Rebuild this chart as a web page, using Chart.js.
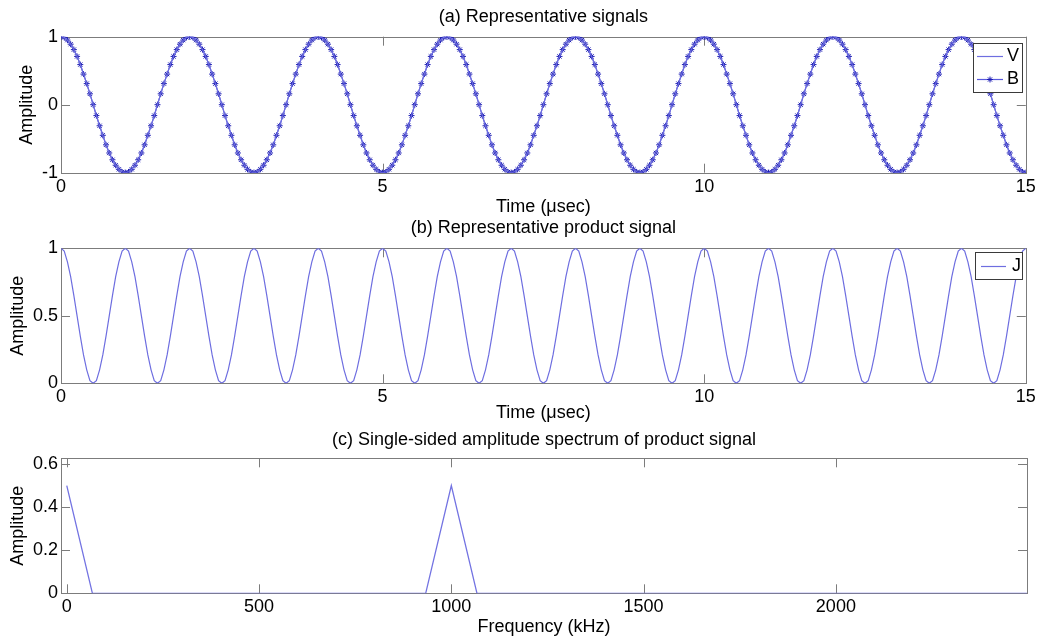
<!DOCTYPE html>
<html>
<head>
<meta charset="utf-8">
<title>Signals and spectrum</title>
<script src="https://cdn.jsdelivr.net/npm/chart.js@4.4.1/dist/chart.umd.min.js"></script>
<style>
  body { margin: 0; background: #fff; }
  #wrap { position: relative; width: 1039px; height: 640px; }
  #wrap canvas { position: absolute; left: 0; top: 0; }
</style>
</head>
<body>
<div id="wrap">
  <canvas id="plot-a" width="1039" height="640"></canvas>
  <canvas id="plot-b" width="1039" height="640"></canvas>
  <canvas id="plot-c" width="1039" height="640"></canvas>
</div>
<script>
// sample spacing of the time traces (usec)
const timeStep = 0.05;

const signalV = [
  1,0.99,0.95,0.89,0.81,0.71,0.59,0.45,0.31,0.16,0,-0.16,-0.31,-0.45,-0.59,-0.71,-0.81,-0.89,-0.95,-0.99,
  -1,-0.99,-0.95,-0.89,-0.81,-0.71,-0.59,-0.45,-0.31,-0.16,0,0.16,0.31,0.45,0.59,0.71,0.81,0.89,0.95,0.99,
  1,0.99,0.95,0.89,0.81,0.71,0.59,0.45,0.31,0.16,0,-0.16,-0.31,-0.45,-0.59,-0.71,-0.81,-0.89,-0.95,-0.99,
  -1,-0.99,-0.95,-0.89,-0.81,-0.71,-0.59,-0.45,-0.31,-0.16,0,0.16,0.31,0.45,0.59,0.71,0.81,0.89,0.95,0.99,
  1,0.99,0.95,0.89,0.81,0.71,0.59,0.45,0.31,0.16,0,-0.16,-0.31,-0.45,-0.59,-0.71,-0.81,-0.89,-0.95,-0.99,
  -1,-0.99,-0.95,-0.89,-0.81,-0.71,-0.59,-0.45,-0.31,-0.16,0,0.16,0.31,0.45,0.59,0.71,0.81,0.89,0.95,0.99,
  1,0.99,0.95,0.89,0.81,0.71,0.59,0.45,0.31,0.16,0,-0.16,-0.31,-0.45,-0.59,-0.71,-0.81,-0.89,-0.95,-0.99,
  -1,-0.99,-0.95,-0.89,-0.81,-0.71,-0.59,-0.45,-0.31,-0.16,0,0.16,0.31,0.45,0.59,0.71,0.81,0.89,0.95,0.99,
  1,0.99,0.95,0.89,0.81,0.71,0.59,0.45,0.31,0.16,0,-0.16,-0.31,-0.45,-0.59,-0.71,-0.81,-0.89,-0.95,-0.99,
  -1,-0.99,-0.95,-0.89,-0.81,-0.71,-0.59,-0.45,-0.31,-0.16,0,0.16,0.31,0.45,0.59,0.71,0.81,0.89,0.95,0.99,
  1,0.99,0.95,0.89,0.81,0.71,0.59,0.45,0.31,0.16,0,-0.16,-0.31,-0.45,-0.59,-0.71,-0.81,-0.89,-0.95,-0.99,
  -1,-0.99,-0.95,-0.89,-0.81,-0.71,-0.59,-0.45,-0.31,-0.16,0,0.16,0.31,0.45,0.59,0.71,0.81,0.89,0.95,0.99,
  1,0.99,0.95,0.89,0.81,0.71,0.59,0.45,0.31,0.16,0,-0.16,-0.31,-0.45,-0.59,-0.71,-0.81,-0.89,-0.95,-0.99,
  -1,-0.99,-0.95,-0.89,-0.81,-0.71,-0.59,-0.45,-0.31,-0.16,0,0.16,0.31,0.45,0.59,0.71,0.81,0.89,0.95,0.99,
  1,0.99,0.95,0.89,0.81,0.71,0.59,0.45,0.31,0.16,0,-0.16,-0.31,-0.45,-0.59,-0.71,-0.81,-0.89,-0.95,-0.99,
  -1
];
// B runs on the same samples as V (the two traces overlap)
const signalB = signalV;

const signalJ = [
  1,0.98,0.9,0.79,0.65,0.5,0.35,0.21,0.1,0.02,0,0.02,0.1,0.21,0.35,0.5,0.65,0.79,0.9,0.98,
  1,0.98,0.9,0.79,0.65,0.5,0.35,0.21,0.1,0.02,0,0.02,0.1,0.21,0.35,0.5,0.65,0.79,0.9,0.98,
  1,0.98,0.9,0.79,0.65,0.5,0.35,0.21,0.1,0.02,0,0.02,0.1,0.21,0.35,0.5,0.65,0.79,0.9,0.98,
  1,0.98,0.9,0.79,0.65,0.5,0.35,0.21,0.1,0.02,0,0.02,0.1,0.21,0.35,0.5,0.65,0.79,0.9,0.98,
  1,0.98,0.9,0.79,0.65,0.5,0.35,0.21,0.1,0.02,0,0.02,0.1,0.21,0.35,0.5,0.65,0.79,0.9,0.98,
  1,0.98,0.9,0.79,0.65,0.5,0.35,0.21,0.1,0.02,0,0.02,0.1,0.21,0.35,0.5,0.65,0.79,0.9,0.98,
  1,0.98,0.9,0.79,0.65,0.5,0.35,0.21,0.1,0.02,0,0.02,0.1,0.21,0.35,0.5,0.65,0.79,0.9,0.98,
  1,0.98,0.9,0.79,0.65,0.5,0.35,0.21,0.1,0.02,0,0.02,0.1,0.21,0.35,0.5,0.65,0.79,0.9,0.98,
  1,0.98,0.9,0.79,0.65,0.5,0.35,0.21,0.1,0.02,0,0.02,0.1,0.21,0.35,0.5,0.65,0.79,0.9,0.98,
  1,0.98,0.9,0.79,0.65,0.5,0.35,0.21,0.1,0.02,0,0.02,0.1,0.21,0.35,0.5,0.65,0.79,0.9,0.98,
  1,0.98,0.9,0.79,0.65,0.5,0.35,0.21,0.1,0.02,0,0.02,0.1,0.21,0.35,0.5,0.65,0.79,0.9,0.98,
  1,0.98,0.9,0.79,0.65,0.5,0.35,0.21,0.1,0.02,0,0.02,0.1,0.21,0.35,0.5,0.65,0.79,0.9,0.98,
  1,0.98,0.9,0.79,0.65,0.5,0.35,0.21,0.1,0.02,0,0.02,0.1,0.21,0.35,0.5,0.65,0.79,0.9,0.98,
  1,0.98,0.9,0.79,0.65,0.5,0.35,0.21,0.1,0.02,0,0.02,0.1,0.21,0.35,0.5,0.65,0.79,0.9,0.98,
  1,0.98,0.9,0.79,0.65,0.5,0.35,0.21,0.1,0.02,0,0.02,0.1,0.21,0.35,0.5,0.65,0.79,0.9,0.98,
  1
];

// single-sided spectrum: DC bin and the 1 MHz bin, zero elsewhere
const freqKHz = [0, 66.7, 933.3, 1000, 1066.7, 2533.3];
const spectrumAmp = [0.5, 0, 0, 0.5, 0, 0];

const timeTicks = [0, 5, 10, 15];
const ampTicksA = [-1, 0, 1];
const ampTicksB = [0, 0.5, 1];
const freqTicks = [0, 500, 1000, 1500, 2000];
const ampTicksC = [0, 0.2, 0.4, 0.6];

const FONT = "'Liberation Sans', Arial, Helvetica, sans-serif";
const TEXT = '#000';
const FS = 18;
const LH = FS * 1.2;

const toXY = (xs, ys) => ys.map((v, i) => ({ x: xs[i], y: v }));
const onTime = ys => ys.map((v, i) => ({ x: +(i * timeStep).toFixed(2), y: v }));

// box around the axes plus inward tick marks on all four sides
const axesBox = {
  id: 'axesBox',
  beforeDatasetsDraw(chart) {
    const { ctx, chartArea: a, scales: { x, y } } = chart;
    const len = 9;
    ctx.save();
    ctx.strokeStyle = '#7c7c7c';
    ctx.lineWidth = 1;
    ctx.beginPath();
    x.ticks.forEach(t => {
      const px = Math.round(x.getPixelForValue(t.value)) + 0.5;
      ctx.moveTo(px, a.bottom); ctx.lineTo(px, a.bottom - len);
      ctx.moveTo(px, a.top); ctx.lineTo(px, a.top + len);
    });
    y.ticks.forEach(t => {
      const py = Math.round(y.getPixelForValue(t.value)) + 0.5;
      ctx.moveTo(a.left, py); ctx.lineTo(a.left + len, py);
      ctx.moveTo(a.right, py); ctx.lineTo(a.right - len, py);
    });
    ctx.stroke();
    ctx.strokeRect(Math.round(a.left) + 0.5, Math.round(a.top) + 0.5,
      Math.round(a.width), Math.round(a.height));
    ctx.restore();
  }
};

function drawStar(ctx, x, y, r) {
  ctx.beginPath();
  ctx.moveTo(x - r, y); ctx.lineTo(x + r, y);
  ctx.moveTo(x, y - r); ctx.lineTo(x, y + r);
  const d = r * 0.7;
  ctx.moveTo(x - d, y - d); ctx.lineTo(x + d, y + d);
  ctx.moveTo(x - d, y + d); ctx.lineTo(x + d, y - d);
  ctx.stroke();
}

// legend box sitting inside the top-right corner of the axes
const boxLegend = {
  id: 'boxLegend',
  afterDatasetsDraw(chart, args, opts) {
    if (!opts.show) return;
    const { ctx, chartArea: a } = chart;
    const sets = chart.data.datasets;
    const x0 = Math.round(a.right - opts.right - opts.width);
    const y0 = Math.round(a.top + opts.top);
    const h = opts.rowHeight * sets.length + opts.padY * 2;
    ctx.save();
    ctx.fillStyle = '#fff';
    ctx.fillRect(x0, y0, opts.width, h);
    ctx.strokeStyle = '#3a3a3a';
    ctx.lineWidth = 1;
    ctx.strokeRect(x0 + 0.5, y0 + 0.5, opts.width, h);
    sets.forEach((ds, i) => {
      const cy = Math.round(y0 + opts.padY + opts.rowHeight * (i + 0.5)) + 0.5;
      ctx.strokeStyle = ds.borderColor;
      ctx.lineWidth = ds.borderWidth;
      ctx.beginPath();
      ctx.moveTo(x0 + opts.lineX0, cy); ctx.lineTo(x0 + opts.lineX1, cy);
      ctx.stroke();
      if (ds.pointRadius > 0) {
        ctx.strokeStyle = ds.pointBorderColor;
        ctx.lineWidth = ds.pointBorderWidth;
        drawStar(ctx, x0 + (opts.lineX0 + opts.lineX1) / 2, cy, ds.pointRadius);
      }
      ctx.fillStyle = TEXT;
      ctx.font = `${FS}px ${FONT}`;
      ctx.textBaseline = 'middle';
      ctx.fillText(ds.label, x0 + opts.textX, cy);
    });
    ctx.restore();
  }
};

function makePanel(id, p) {
  const xBoxBottom = p.xTitleY + LH / 2;
  return new Chart(document.getElementById(id), {
    type: 'line',
    data: { datasets: p.datasets },
    plugins: [axesBox, boxLegend],
    options: {
      responsive: false,
      animation: false,
      events: [],
      layout: { padding: { left: 0, right: 12, top: p.titleY - LH / 2, bottom: 640 - xBoxBottom } },
      elements: { line: { tension: 0 } },
      plugins: {
        legend: { display: false },
        tooltip: { enabled: false },
        title: {
          display: true, fullSize: false, text: p.title, color: TEXT,
          font: { family: FONT, size: FS, weight: 'normal' },
          padding: { top: 0, bottom: p.top - (p.titleY + LH / 2) }
        },
        boxLegend: p.legend || { show: false }
      },
      scales: {
        x: {
          type: 'linear', min: p.xMin, max: p.xMax,
          afterBuildTicks: s => { s.ticks = p.xTicks.map(v => ({ value: v })); },
          afterFit: s => { s.height = xBoxBottom - p.bottom; },
          grid: { display: false, drawTicks: false },
          border: { display: false },
          ticks: {
            padding: p.tickY - p.bottom - LH / 2, color: TEXT, maxRotation: 0, autoSkip: false,
            font: { family: FONT, size: FS }, callback: v => String(v)
          },
          title: {
            display: true, text: p.xTitle, color: TEXT,
            font: { family: FONT, size: FS }, padding: { top: 0, bottom: 0 }
          }
        },
        y: {
          type: 'linear', min: p.yMin, max: p.yMax,
          afterBuildTicks: s => { s.ticks = p.yTicks.map(v => ({ value: v })); },
          afterFit: s => { s.width = 61; },
          grid: { display: false, drawTicks: false },
          border: { display: false },
          ticks: {
            padding: 3, color: TEXT, autoSkip: false,
            font: { family: FONT, size: FS }, callback: v => String(v)
          },
          title: {
            display: true, text: 'Amplitude', color: TEXT,
            font: { family: FONT, size: FS }, padding: { top: p.yTitleX - LH / 2, bottom: 0 }
          }
        }
      }
    }
  });
}

makePanel('plot-a', {
  title: '(a) Representative signals', xTitle: 'Time (\u03bcsec)',
  titleY: 17, top: 36.7, bottom: 172.7, tickY: 186.7, xTitleY: 206.7, yTitleX: 27.5,
  xMin: 0, xMax: 15, xTicks: timeTicks, yMin: -1, yMax: 1, yTicks: ampTicksA,
  datasets: [
    { label: 'V', data: onTime(signalV), borderColor: '#6e6ee0', borderWidth: 1.2, pointRadius: 0 },
    { label: 'B', data: onTime(signalB), borderColor: '#5858dc', borderWidth: 1.2,
      pointStyle: 'star', pointRadius: 3, pointBorderColor: '#1c1cb4', pointBorderWidth: 1,
      pointBackgroundColor: '#1c1cb4' }
  ],
  legend: { show: true, width: 49, right: 4, top: 6, rowHeight: 23, padY: 1.5, lineX0: 4, lineX1: 30, textX: 34 }
});

makePanel('plot-b', {
  title: '(b) Representative product signal', xTitle: 'Time (\u03bcsec)',
  titleY: 228, top: 248.3, bottom: 383.3, tickY: 397.3, xTitleY: 413, yTitleX: 18.5,
  xMin: 0, xMax: 15, xTicks: timeTicks, yMin: 0, yMax: 1, yTicks: ampTicksB,
  datasets: [
    { label: 'J', data: onTime(signalJ), borderColor: '#6e6ee0', borderWidth: 1.2, pointRadius: 0 }
  ],
  legend: { show: true, width: 47, right: 4, top: 3.5, rowHeight: 23, padY: 2, lineX0: 6, lineX1: 31, textX: 37 }
});

makePanel('plot-c', {
  title: '(c) Single-sided amplitude spectrum of product signal', xTitle: 'Frequency (kHz)',
  titleY: 440, top: 458.3, bottom: 593.3, tickY: 607.5, xTitleY: 627, yTitleX: 18.5,
  xMin: -15, xMax: 2497, xTicks: freqTicks, yMin: 0, yMax: 0.627, yTicks: ampTicksC,
  datasets: [
    { label: 'Spectrum', data: toXY(freqKHz, spectrumAmp), borderColor: '#7373e2', borderWidth: 1.3, pointRadius: 0 }
  ]
});
</script>
</body>
</html>
